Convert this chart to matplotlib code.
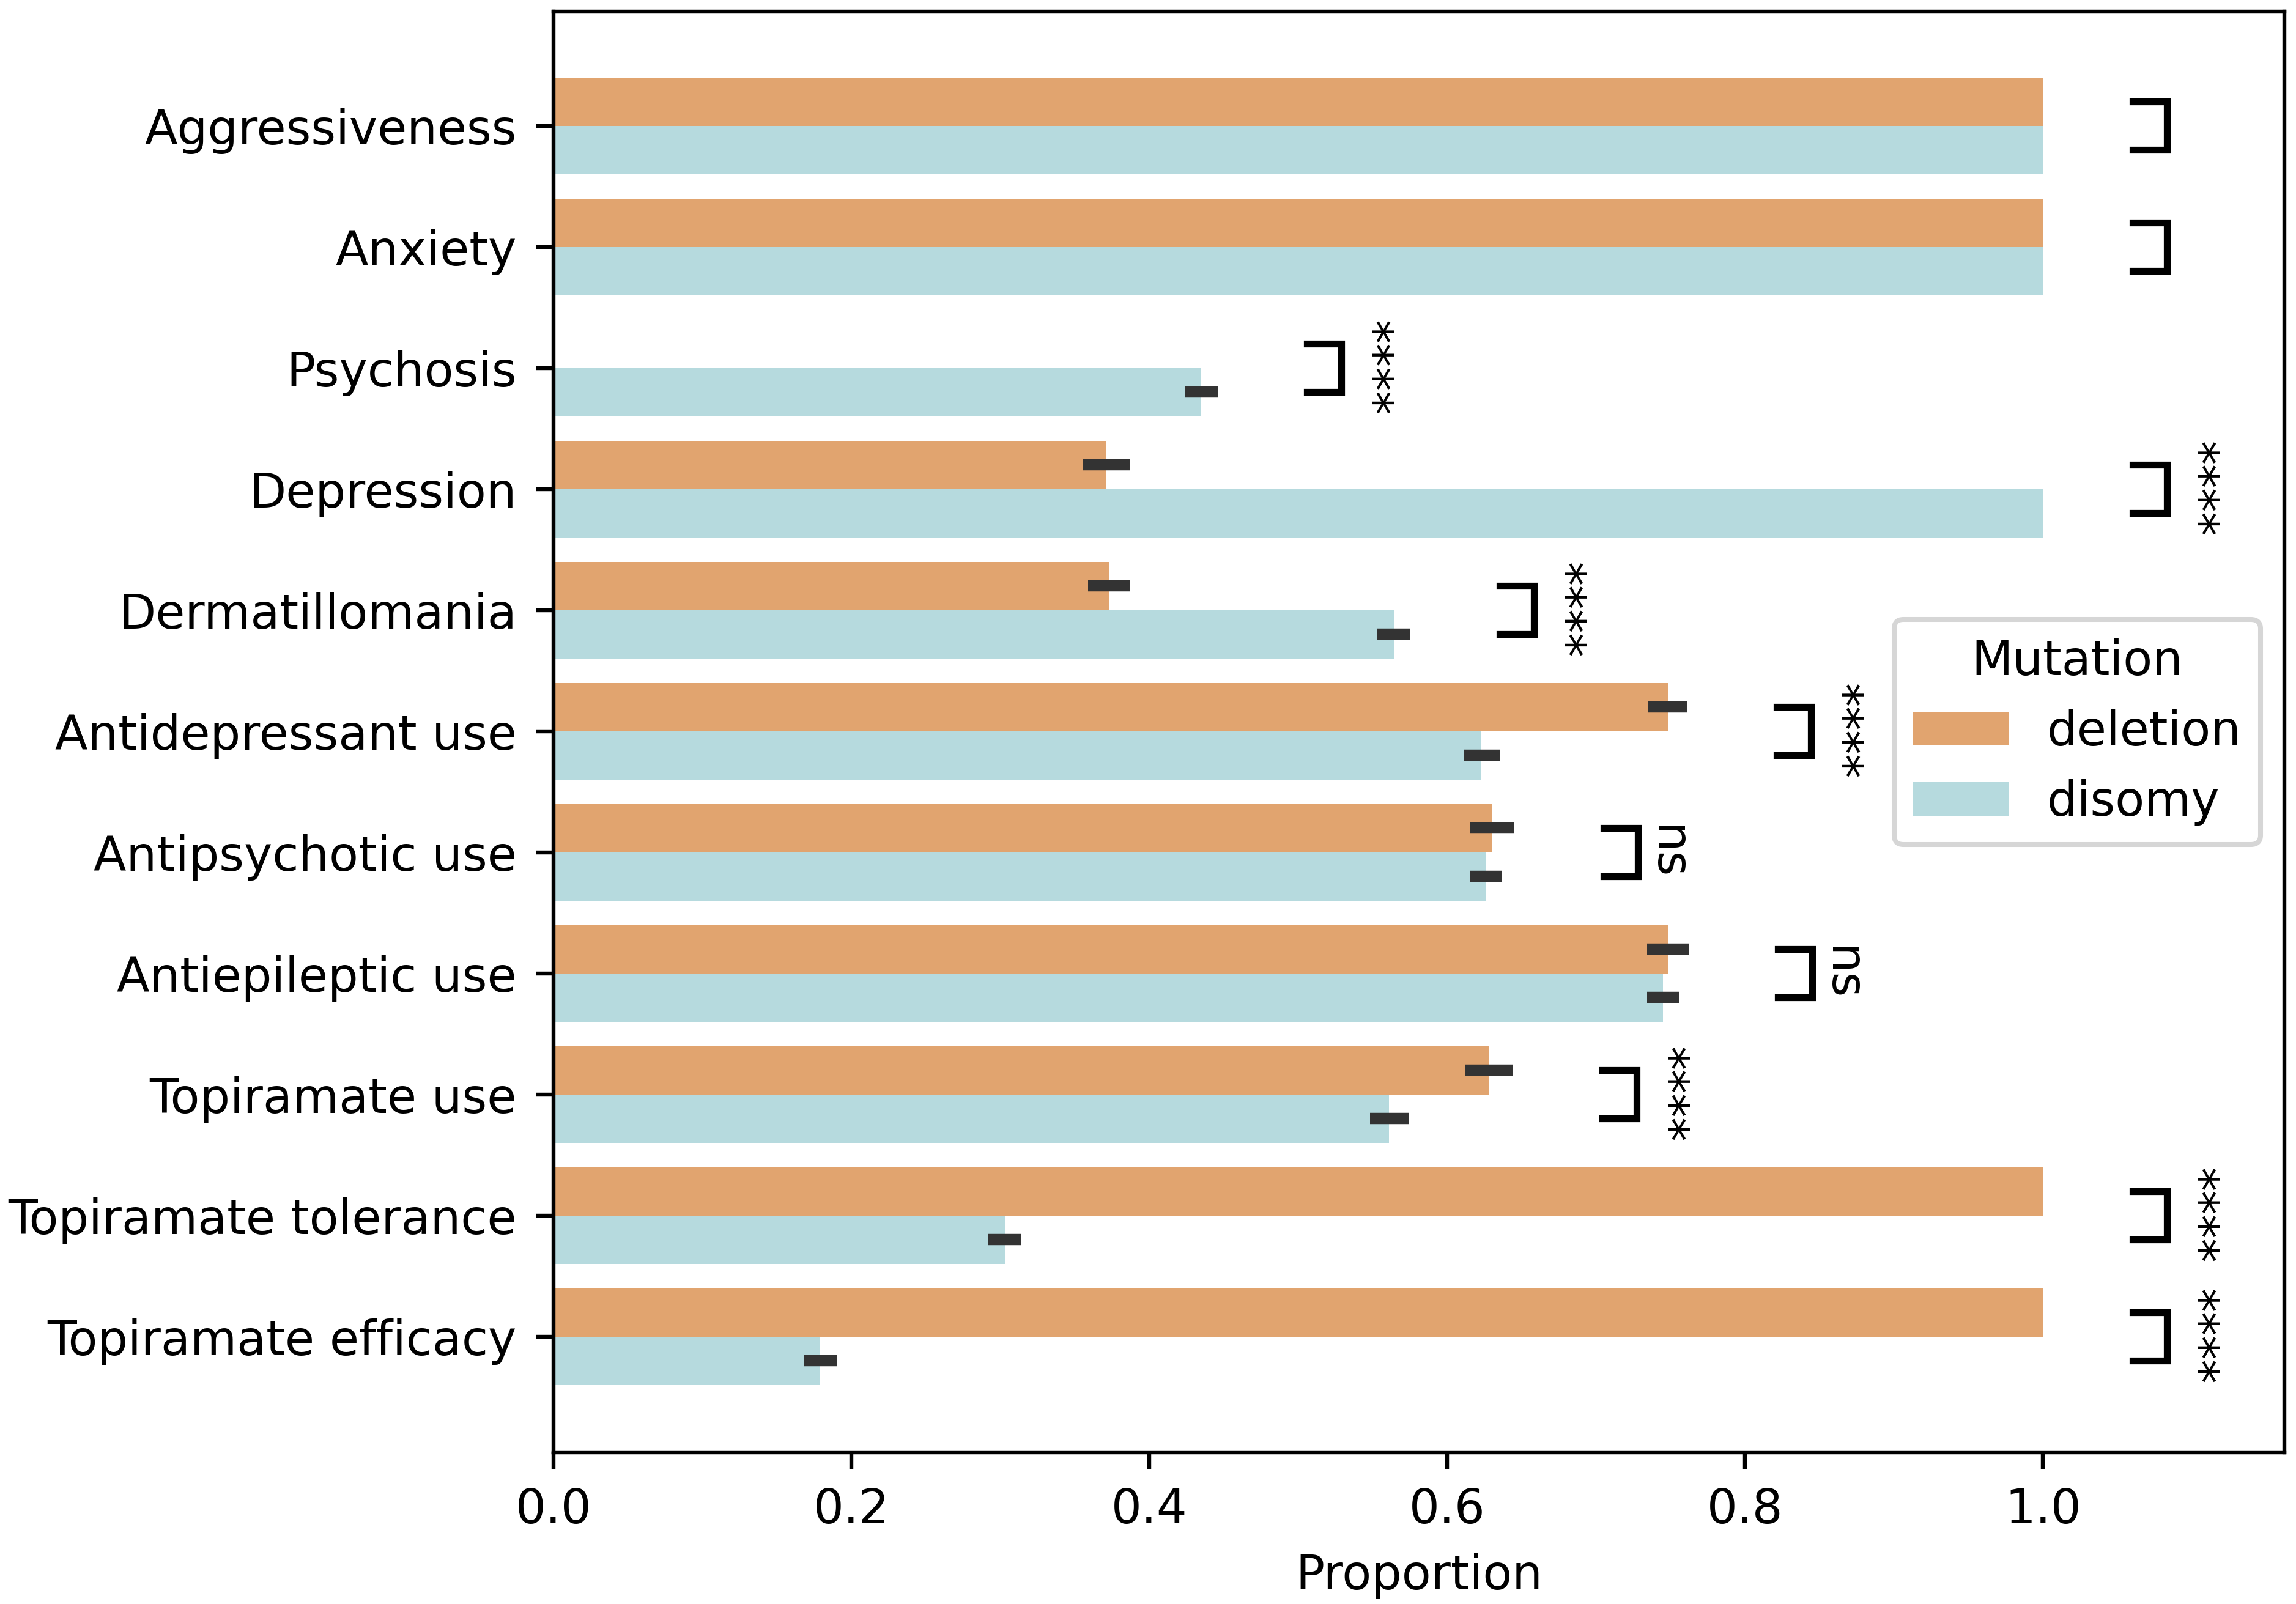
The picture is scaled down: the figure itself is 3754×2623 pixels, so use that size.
import numpy as np
import matplotlib
matplotlib.use("Agg")
import matplotlib.pyplot as plt

categories = ["Aggressiveness", "Anxiety", "Psychosis", "Depression", "Dermatillomania",
              "Antidepressant use", "Antipsychotic use", "Antiepileptic use",
              "Topiramate use", "Topiramate tolerance", "Topiramate efficacy"]
deletion = [1.0, 1.0, 0.0, 0.371, 0.373, 0.748, 0.630, 0.748, 0.628, 1.0, 1.0]
disomy = [1.0, 1.0, 0.435, 1.0, 0.564, 0.623, 0.626, 0.745, 0.561, 0.303, 0.179]
deletion_err = [np.nan, np.nan, np.nan, 0.016, 0.014, 0.013, 0.015, 0.014, 0.016, np.nan, np.nan]
disomy_err = [np.nan, np.nan, 0.011, np.nan, 0.011, 0.012, 0.011, 0.011, 0.013, 0.011, 0.011]
significance = ["", "", "****", "****", "****", "****", "ns", "ns", "****", "****", "****"]
groups = ["deletion", "disomy"]
xticks = [0.0, 0.2, 0.4, 0.6, 0.8, 1.0]

C_DEL = "#E1A46F"
C_DIS = "#B6DADE"
FS = 9.75

plt.rcParams["font.family"] = ["DejaVu Sans"]
fig = plt.figure(figsize=(6.5, 6.5 * 2623 / 3754), dpi=3754 / 6.5)
ax = fig.add_axes([905 / 3754, 1 - 2375 / 2623, (3735 - 905) / 3754, (2375 - 19) / 2623])

y = np.arange(len(categories))
h = 0.4
ax.barh(y - h / 2, deletion, height=h, color=C_DEL, label=groups[0], zorder=2)
ax.barh(y + h / 2, disomy, height=h, color=C_DIS, label=groups[1], zorder=2)

ax.errorbar(deletion, y - h / 2, xerr=deletion_err, fmt="none", ecolor="#333333",
            elinewidth=2.3, capsize=0, zorder=3)
ax.errorbar(disomy, y + h / 2, xerr=disomy_err, fmt="none", ecolor="#333333",
            elinewidth=2.3, capsize=0, zorder=3)

# significance brackets
for i, lab in enumerate(significance):
    d_hi = deletion[i] + (0 if np.isnan(deletion_err[i]) else deletion_err[i])
    s_hi = disomy[i] + (0 if np.isnan(disomy_err[i]) else disomy_err[i])
    left = max(d_hi, s_hi) + 0.06
    right = left + 0.023
    ax.plot([left, right, right, left], [i - h / 2, i - h / 2, i + h / 2, i + h / 2],
            color="black", lw=1.4, zorder=4, solid_joinstyle="miter")
    if lab:
        ax.text(right + 0.004, i, lab, rotation=270, ha="left", va="center",
                fontsize=FS, rotation_mode="default")

ax.set_xlim(0, 1.162)
ax.set_ylim(10.955, -0.943)
ax.set_yticks(y)
ax.set_yticklabels(categories, fontsize=FS)
ax.tick_params(axis="y", pad=4.0)
ax.set_xticks(xticks)
ax.set_xticklabels([f"{t:.1f}" for t in xticks], fontsize=FS)
ax.set_xlabel("Proportion", fontsize=FS)
ax.set_ylabel("")

leg = ax.legend(title="Mutation", loc="center right", fontsize=FS, title_fontsize=FS,
                frameon=True)

fig.savefig("out.png", dpi=3754 / 6.5, facecolor="white")
